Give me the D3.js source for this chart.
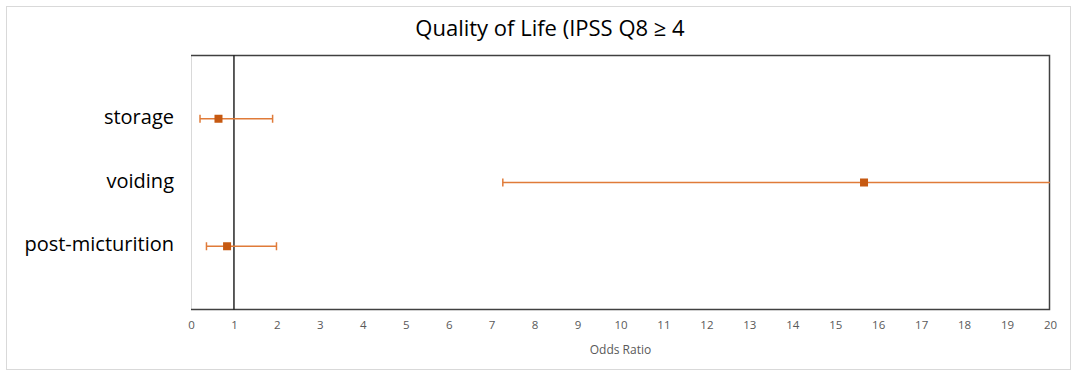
<!DOCTYPE html>
<html><head><meta charset="utf-8">
<script src="https://cdn.jsdelivr.net/npm/d3@7"></script>
<style>body{margin:0;background:#fff;} svg{display:block;}</style>
</head><body>
<svg id="c" width="1080" height="380"></svg>
<script>
const title = "Quality of Life (IPSS Q8 \u2265 4";
const categories = ["storage", "voiding", "post-micturition"];
const oddsRatio = [0.64, 15.67, 0.84];
const lowerCI = [0.21, 7.26, 0.36];
const upperCI = [1.90, 24.0, 1.99];
const xTicks = [0,1,2,3,4,5,6,7,8,9,10,11,12,13,14,15,16,17,18,19,20];
const xLabel = "Odds Ratio";
const refLine = 1;

const svg = d3.select("#c");
const m = {left:191, right:1050, top:55, bottom:310};
const font = "'Open Sans', sans-serif";

svg.append("rect").attr("x",6.5).attr("y",6.5).attr("width",1064).attr("height",363)
  .attr("fill","#fff").attr("stroke","#d9d9d9");

const x = d3.scaleLinear().domain([0,20]).range([m.left, m.right]);
const y = d3.scaleLinear().domain([0,4]).range([m.top, m.bottom]);

svg.append("defs").append("clipPath").attr("id","clip")
  .append("rect").attr("x",m.left).attr("y",m.top).attr("width",m.right-m.left).attr("height",m.bottom-m.top);

svg.append("line").attr("x1",m.left+0.5).attr("x2",m.left+0.5).attr("y1",m.top).attr("y2",m.bottom)
  .attr("stroke","#d9d9d9");
svg.append("path").attr("d",`M${m.left},${m.top+0.5}H${m.right-0.5}V${m.bottom-0.5}H${m.left}`)
  .attr("fill","none").attr("stroke","#404040").attr("stroke-width",1.5);

const xa = svg.append("g").attr("transform",`translate(0,${m.bottom})`)
  .call(d3.axisBottom(x).tickValues(xTicks).tickSize(0).tickPadding(11).tickFormat(d3.format("d")));
xa.select(".domain").remove();
xa.selectAll("text").attr("fill","#595959").style("font-family",font).style("font-size","11.5px");

svg.append("line").attr("x1",x(refLine)).attr("x2",x(refLine)).attr("y1",m.top).attr("y2",m.bottom)
  .attr("stroke","#262626").attr("stroke-width",1.5);

svg.selectAll(".cat").data(categories).enter().append("text")
  .attr("x",174).attr("y",(d,i)=>y(i+1)).attr("dy","0.25em").attr("text-anchor","end")
  .style("font-family",font).style("font-size","20px").attr("fill","#000").text(d=>d);

const g = svg.append("g").attr("clip-path","url(#clip)");
const col = "#E07B39", mk = "#C65911";
categories.forEach((c,i)=>{
  const yy = y(i+1);
  g.append("line").attr("x1",x(lowerCI[i])).attr("x2",x(upperCI[i])).attr("y1",yy).attr("y2",yy)
    .attr("stroke",col).attr("stroke-width",1.5);
  [lowerCI[i], upperCI[i]].forEach(v=>{
    g.append("line").attr("x1",x(v)).attr("x2",x(v)).attr("y1",yy-4).attr("y2",yy+4)
      .attr("stroke",col).attr("stroke-width",1.5);
  });
  g.append("rect").attr("x",x(oddsRatio[i])-4).attr("y",yy-4).attr("width",8).attr("height",8)
    .attr("fill",mk);
});

svg.append("text").attr("x",(m.left+m.right)/2).attr("y",354).attr("text-anchor","middle")
  .style("font-family",font).style("font-size","12px").attr("fill","#595959").text(xLabel);

svg.append("text").attr("x",550).attr("y",36).attr("text-anchor","middle")
  .style("font-family",font).style("font-size","22px").attr("fill","#000").text(title);
</script>
</body></html>
